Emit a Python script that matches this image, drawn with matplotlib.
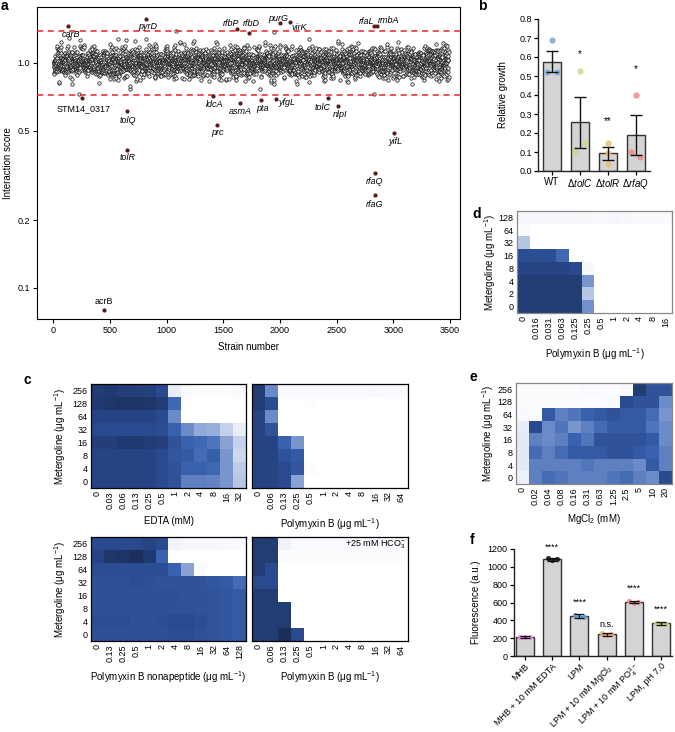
import math
import numpy as np
import matplotlib.pyplot as plt
from matplotlib.colors import LinearSegmentedColormap
from matplotlib.ticker import NullLocator

plt.rcParams['font.family'] = ['Liberation Sans', 'DejaVu Sans']
plt.rcParams['font.size'] = 6.5
plt.rcParams['mathtext.fontset'] = 'custom'
plt.rcParams['mathtext.rm'] = 'Liberation Sans'
plt.rcParams['mathtext.it'] = 'Liberation Sans:italic'
plt.rcParams['mathtext.bf'] = 'Liberation Sans:bold'
plt.rcParams['mathtext.default'] = 'regular'

# ---------------- a: genome-wide screen ----------------
N_STRAINS = 3490          # strains in the dense band
BAND_SD = 0.032           # log10 spread of the band around 1.0
HIT_NAMES = ['carB', 'pyrD', 'rfbP', 'rfbD', 'purG', 'virK', 'rfaL', 'rmbA',
             'STM14_0317', 'tolQ', 'tolR', 'ldcA', 'prc', 'asmA', 'pta', 'yfgL',
             'tolC', 'nlpI', 'yifL', 'rfaQ', 'rfaG', 'acrB']
HIT_STRAIN = [126, 815, 1625, 1731, 2002, 2090, 2831, 2861,
              255, 653, 653, 1407, 1443, 1648, 1831, 1967,
              2428, 2511, 3003, 2838, 2838, 447]
HIT_SCORE = [1.46, 1.56, 1.41, 1.35, 1.50, 1.52, 1.46, 1.45,
             0.70, 0.61, 0.41, 0.71, 0.53, 0.66, 0.68, 0.69,
             0.70, 0.64, 0.49, 0.325, 0.258, 0.080]
EXTRA_STRAIN = [1080, 1949, 229, 2834]
EXTRA_SCORE = [1.39, 1.365, 0.726, 0.725]
CUTOFF_HI, CUTOFF_LO = 1.39, 0.72

# ---------------- b: relative growth ----------------
B_STRAINS = ['WT', r'$\Delta\mathit{tolC}$', r'$\Delta\mathit{tolR}$', r'$\Delta\mathit{rfaQ}$']
B_MEAN = [0.576, 0.257, 0.093, 0.189]
B_ERR = [0.056, 0.134, 0.034, 0.104]
B_REPS = [[0.69, 0.52, 0.52], [0.525, 0.145, 0.10], [0.15, 0.093, 0.035], [0.40, 0.10, 0.075]]
B_STARS = ['', '*', '**', '*']
B_STAR_Y = [0, 0.615, 0.264, 0.537]

# ---------------- c, d, e: checkerboards ----------------
MET_ROWS = ['256', '128', '64', '32', '16', '8', '4', '0']
EDTA_X = ['0', '0.03', '0.06', '0.13', '0.25', '0.5', '1', '2', '4', '8', '16', '32']
EDTA_GROWTH = [
    [0.95, 0.96, 0.94, 0.94, 0.93, 0.90, 0.12, 0.03, 0.02, 0.02, 0.02, 0.03],
    [0.96, 0.97, 0.98, 0.98, 0.97, 0.95, 0.72, 0.00, 0.00, 0.00, 0.00, 0.00],
    [0.92, 0.92, 0.92, 0.92, 0.92, 0.90, 0.55, 0.00, 0.00, 0.00, 0.00, 0.00],
    [0.90, 0.90, 0.90, 0.90, 0.90, 0.88, 0.75, 0.55, 0.42, 0.40, 0.25, 0.12],
    [0.94, 0.94, 0.96, 0.96, 0.95, 0.93, 0.85, 0.75, 0.72, 0.65, 0.45, 0.25],
    [0.92, 0.92, 0.92, 0.92, 0.92, 0.90, 0.82, 0.80, 0.70, 0.78, 0.50, 0.22],
    [0.92, 0.92, 0.92, 0.92, 0.92, 0.90, 0.85, 0.75, 0.75, 0.72, 0.50, 0.28],
    [0.92, 0.92, 0.92, 0.92, 0.92, 0.90, 0.85, 0.60, 0.60, 0.58, 0.50, 0.30],
]
PMB_X = ['0', '0.06', '0.13', '0.25', '0.5', '1', '2', '4', '8', '16', '32', '64']
PMB_GROWTH = [
    [0.95, 0.55, 0.03, 0.03, 0.03, 0.03, 0.03, 0.03, 0.03, 0.04, 0.03, 0.03],
    [0.95, 0.88, 0.00, 0.00, 0.01, 0.00, 0.00, 0.00, 0.00, 0.00, 0.00, 0.00],
    [0.92, 0.55, 0.00, 0.00, 0.00, 0.00, 0.00, 0.00, 0.00, 0.00, 0.00, 0.00],
    [0.92, 0.85, 0.00, 0.00, 0.00, 0.00, 0.00, 0.00, 0.00, 0.00, 0.00, 0.00],
    [0.92, 0.92, 0.75, 0.50, 0.00, 0.00, 0.00, 0.00, 0.00, 0.00, 0.00, 0.00],
    [0.92, 0.92, 0.85, 0.80, 0.00, 0.00, 0.00, 0.00, 0.00, 0.00, 0.00, 0.00],
    [0.92, 0.92, 0.90, 0.82, 0.02, 0.00, 0.00, 0.00, 0.00, 0.00, 0.00, 0.00],
    [0.92, 0.92, 0.90, 0.45, 0.00, 0.00, 0.00, 0.00, 0.00, 0.00, 0.00, 0.00],
]
PMBN_X = ['0', '0.13', '0.25', '0.5', '1', '2', '4', '8', '16', '32', '64', '128']
PMBN_GROWTH = [
    [0.90, 0.90, 0.90, 0.90, 0.92, 0.90, 0.08, 0.05, 0.05, 0.05, 0.04, 0.03],
    [0.92, 0.97, 0.98, 1.00, 0.96, 0.75, 0.00, 0.00, 0.00, 0.00, 0.00, 0.00],
    [0.88, 0.88, 0.88, 0.88, 0.88, 0.88, 0.75, 0.45, 0.03, 0.00, 0.00, 0.00],
    [0.86, 0.86, 0.86, 0.88, 0.86, 0.85, 0.85, 0.85, 0.85, 0.82, 0.80, 0.70],
    [0.86, 0.86, 0.86, 0.86, 0.86, 0.86, 0.86, 0.85, 0.85, 0.84, 0.82, 0.80],
    [0.86, 0.86, 0.86, 0.86, 0.86, 0.86, 0.86, 0.86, 0.85, 0.84, 0.82, 0.80],
    [0.88, 0.88, 0.88, 0.86, 0.86, 0.88, 0.90, 0.90, 0.88, 0.84, 0.82, 0.80],
    [0.86, 0.86, 0.86, 0.86, 0.86, 0.86, 0.88, 0.88, 0.86, 0.84, 0.82, 0.80],
]
PMB_HCO3_GROWTH = [
    [0.95, 0.95, 0.08, 0.03, 0.03, 0.03, 0.03, 0.03, 0.03, 0.04, 0.03, 0.03],
    [0.95, 0.95, 0.02, 0.02, 0.02, 0.02, 0.02, 0.02, 0.02, 0.02, 0.02, 0.02],
    [0.95, 0.90, 0.00, 0.00, 0.00, 0.00, 0.00, 0.00, 0.00, 0.00, 0.00, 0.00],
    [0.90, 0.90, 0.00, 0.00, 0.00, 0.00, 0.00, 0.00, 0.00, 0.00, 0.00, 0.00],
    [0.95, 0.95, 0.00, 0.00, 0.00, 0.00, 0.00, 0.00, 0.00, 0.00, 0.00, 0.00],
    [0.95, 0.95, 0.95, 0.00, 0.00, 0.00, 0.00, 0.00, 0.00, 0.00, 0.00, 0.00],
    [0.95, 0.95, 0.95, 0.00, 0.00, 0.00, 0.00, 0.00, 0.00, 0.00, 0.00, 0.00],
    [0.95, 0.95, 1.00, 0.90, 0.00, 0.00, 0.00, 0.00, 0.00, 0.00, 0.00, 0.00],
]
D_ROWS = ['128', '64', '32', '16', '8', '4', '2', '0']
D_X = ['0', '0.016', '0.031', '0.063', '0.125', '0.25', '0.5', '1', '2', '4', '8', '16']
D_GROWTH = [
    [0.06, 0.06, 0.06, 0.06, 0.05, 0.05, 0.04, 0.06, 0.05, 0.04, 0.04, 0.03],
    [0.02, 0.00, 0.00, 0.00, 0.00, 0.00, 0.00, 0.00, 0.00, 0.00, 0.00, 0.00],
    [0.30, 0.00, 0.00, 0.00, 0.00, 0.00, 0.00, 0.00, 0.00, 0.00, 0.00, 0.00],
    [0.88, 0.88, 0.88, 0.72, 0.00, 0.00, 0.00, 0.00, 0.00, 0.00, 0.00, 0.00],
    [0.92, 0.92, 0.92, 0.92, 0.90, 0.05, 0.00, 0.00, 0.00, 0.00, 0.00, 0.00],
    [0.95, 0.95, 0.95, 0.95, 0.95, 0.50, 0.00, 0.00, 0.00, 0.00, 0.00, 0.00],
    [0.95, 0.95, 0.95, 0.95, 0.95, 0.30, 0.00, 0.00, 0.00, 0.00, 0.00, 0.00],
    [0.95, 0.95, 0.95, 0.95, 0.95, 0.52, 0.00, 0.00, 0.00, 0.00, 0.00, 0.00],
]
E_X = ['0', '0.02', '0.04', '0.08', '0.16', '0.31', '0.63', '1.25', '2.5', '5', '10', '20']
E_GROWTH = [
    [0.02, 0.02, 0.02, 0.02, 0.02, 0.03, 0.03, 0.02, 0.04, 0.95, 0.85, 0.85],
    [0.02, 0.02, 0.02, 0.02, 0.02, 0.02, 0.02, 0.03, 0.90, 0.85, 0.85, 0.55],
    [0.03, 0.02, 0.80, 0.60, 0.65, 0.75, 0.80, 0.85, 0.80, 0.80, 0.70, 0.50],
    [0.12, 0.90, 0.55, 0.65, 0.50, 0.60, 0.70, 0.80, 0.80, 0.80, 0.65, 0.55],
    [0.15, 0.60, 0.55, 0.60, 0.75, 0.65, 0.85, 0.85, 0.85, 0.85, 0.80, 0.55],
    [0.15, 0.70, 0.60, 0.70, 0.80, 0.80, 0.80, 0.85, 0.85, 0.80, 0.75, 0.60],
    [0.15, 0.60, 0.60, 0.60, 0.60, 0.65, 0.60, 0.60, 0.60, 0.55, 0.80, 0.60],
    [0.10, 0.60, 0.70, 0.65, 0.60, 0.60, 0.60, 0.65, 0.70, 0.60, 0.55, 0.90],
]

# ---------------- f: fluorescence ----------------
F_COND = ['MHB', 'MHB + 10 mM EDTA', 'LPM', r'LPM + 10 mM MgCl$_2$',
          r'LPM + 10 mM PO$_4^{3-}$', 'LPM, pH 7.0']
F_MEAN = [215, 1085, 448, 245, 605, 365]
F_ERR = [8, 15, 20, 18, 8, 15]
F_REPS = [[212, 218, 215], [1100, 1075, 1090], [462, 440, 442],
          [255, 232, 248], [612, 600, 608], [372, 360, 363]]
F_STARS = ['', '****', '****', 'n.s.', '****', '****']
F_STAR_Y = [0, 1221, 601, 350, 758, 521]

# ---------------- styling ----------------
W, H = 675, 732
fig = plt.figure(figsize=(W / 100, H / 100), dpi=100)
CMAP = LinearSegmentedColormap.from_list('growth', [
    (0.0, '#ffffff'), (0.15, '#e3e9f5'), (0.35, '#a9bbe0'), (0.55, '#6a8ac8'),
    (0.75, '#3a62ae'), (0.9, '#2a4b8f'), (1.0, '#1b2f5c')])
B_COLORS = ['#7ba7e0', '#c3de8a', '#e8be78', '#ee8888']
F_COLORS = ['#e38be3', '#111111', '#6fa1dc', '#e9b66a', '#ee8a8a', '#c4dc84']
LABEL_OFFSET = {'carB': (3, -9), 'pyrD': (2, -7), 'rfbP': (-6, 6), 'rfbD': (2, 10),
                'purG': (-2, 5), 'virK': (9, -6), 'rfaL': (-7, 4), 'rmbA': (11, 6),
                'STM14_0317': (1, -11), 'tolQ': (0, -9), 'tolR': (0, -8), 'ldcA': (2, -8),
                'prc': (1, -8), 'asmA': (0, -8), 'pta': (2, -8), 'yfgL': (11, -3),
                'tolC': (-6, -10), 'nlpI': (2, -8), 'yifL': (2, -9), 'rfaQ': (0, -9),
                'rfaG': (0, -9), 'acrB': (0, 8)}


def rect(x0, y0, x1, y1):
    return [x0 / W, 1 - y1 / H, (x1 - x0) / W, (y1 - y0) / H]


def letter(x, y, s):
    fig.text(x / W, 1 - y / H, s, fontsize=10, fontweight='bold', ha='left', va='center')


def prism(ax):
    for s in ['top', 'right']:
        ax.spines[s].set_visible(False)
    for s in ['left', 'bottom']:
        ax.spines[s].set_linewidth(1.0)
        ax.spines[s].set_color('#222222')
    ax.tick_params(direction='out', length=3, width=0.9, pad=1.5, labelsize=6.5)


def heat(box, grid, xlabels, ylabels, xlabel, show_y=True, edge='black', ypad=3):
    ax = fig.add_axes(rect(*box))
    ax.imshow(np.array(grid), cmap=CMAP, vmin=0, vmax=1, aspect='auto',
              interpolation='nearest')
    ax.set_xticks(range(len(xlabels)))
    ax.set_xticklabels(xlabels, rotation=90)
    ax.set_yticks(range(len(ylabels)))
    ax.set_yticklabels(ylabels if show_y else [])
    ax.tick_params(length=0, pad=2.5, labelsize=6.5)
    for s in ax.spines.values():
        s.set_color(edge)
        s.set_linewidth(0.9)
    ax.set_xlabel(xlabel, fontsize=7, labelpad=5)
    if show_y:
        ax.set_ylabel(r'Metergoline ($\mu$g mL$^{-1}$)', fontsize=7, labelpad=ypad)
    return ax


# ---- panel a
ax = fig.add_axes(rect(37, 7, 460, 319))
k = np.arange(N_STRAINS)
# equidistributed quantile positions (Weyl sequence) mapped onto the band spread
q = (k * k * math.sqrt(2) / 2 + k * 0.6180339887 + 0.3) % 1
zg = np.linspace(-3.7, 3.7, 1481)
cdf = 0.5 * (1 + np.array([math.erf(v / math.sqrt(2)) for v in zg]))
cloud = 10 ** (BAND_SD * np.interp(q, cdf, zg))
ax.scatter(k + 1, cloud, s=6, facecolors='#eeeeee', edgecolors='#111111',
           linewidths=0.5, zorder=2)
ax.scatter(EXTRA_STRAIN, EXTRA_SCORE, s=6, facecolors='#eeeeee', edgecolors='#111111',
           linewidths=0.5, zorder=2)
ax.axhline(CUTOFF_HI, color='#e8202a', lw=1.1, dashes=(4, 3), zorder=3)
ax.axhline(CUTOFF_LO, color='#e8202a', lw=1.1, dashes=(4, 3), zorder=3)
ax.scatter(HIT_STRAIN, HIT_SCORE, s=4, color='#5b1a1a', zorder=4)
for name, sx, sy in zip(HIT_NAMES, HIT_STRAIN, HIT_SCORE):
    ax.annotate(name, (sx, sy), xytext=LABEL_OFFSET[name], textcoords='offset pixels',
                ha='center', va='center', fontsize=6.5,
                style='normal' if name in ('STM14_0317', 'acrB') else 'italic')
ax.set_yscale('log')
ax.set_ylim(0.0727, 1.77)
ax.set_xlim(-145, 3590)
ax.set_yticks([0.1, 0.2, 0.5, 1.0])
ax.set_yticklabels(['0.1', '0.2', '0.5', '1.0'])
ax.yaxis.set_minor_locator(NullLocator())
ax.set_xticks(range(0, 3501, 500))
ax.tick_params(direction='out', length=3, width=0.8, pad=2, labelsize=6.5)
for s in ax.spines.values():
    s.set_linewidth(0.8)
ax.set_xlabel('Strain number', fontsize=7, labelpad=5)
ax.set_ylabel('Interaction score', fontsize=7, labelpad=3)
letter(1, 6, 'a')

# ---- panel b
ax = fig.add_axes(rect(538, 19, 650, 171))
xb = np.arange(len(B_MEAN))
ax.bar(xb, B_MEAN, width=0.64, color='#d4d4d4', edgecolor='#333333', linewidth=1.0, zorder=1)
ax.errorbar(xb, B_MEAN, yerr=B_ERR, fmt='none', ecolor='#111111', elinewidth=1.0,
            capsize=4.5, capthick=1.0, zorder=3)
B_JITTER = [[0, -0.17, 0.17], [0, 0.18, -0.18], [0, 0, 0], [0, -0.19, 0.15]]
for i, reps in enumerate(B_REPS):
    ax.scatter(i + np.array(B_JITTER[i]), reps, s=20, color=B_COLORS[i], alpha=0.85,
               linewidths=0, zorder=2)
    if B_STARS[i]:
        ax.text(i, B_STAR_Y[i], B_STARS[i], ha='center', va='center', fontsize=7)
ax.set_xlim(-0.5, 3.5)
ax.set_ylim(0, 0.8)
ax.set_yticks(np.arange(0, 0.81, 0.1))
ax.set_yticklabels([f'{v:.1f}' for v in np.arange(0, 0.81, 0.1)])
ax.set_xticks(xb)
ax.set_xticklabels(B_STRAINS, fontsize=7)
prism(ax)
ax.tick_params(axis='x', labelsize=7)
ax.set_ylabel('Relative growth', fontsize=7, labelpad=8)
letter(478, 6, 'b')

# ---- panel c
heat((91, 384, 246, 488), EDTA_GROWTH, EDTA_X, MET_ROWS, 'EDTA (mM)')
heat((252, 384, 408, 488), PMB_GROWTH, PMB_X, MET_ROWS,
     r'Polymyxin B ($\mu$g mL$^{-1}$)', show_y=False)
heat((91, 537, 246, 641), PMBN_GROWTH, PMBN_X, MET_ROWS,
     r'Polymyxin B nonapeptide ($\mu$g mL$^{-1}$)')
axc4 = heat((252, 537, 408, 641), PMB_HCO3_GROWTH, PMB_X, MET_ROWS,
            r'Polymyxin B ($\mu$g mL$^{-1}$)', show_y=False)
axc4.text(0.985, 0.93, r'+25 mM HCO$_3^{-}$', transform=axc4.transAxes,
          ha='right', va='center', fontsize=6.5)
letter(24, 380, 'c')

# ---- panel d
heat((517, 211, 672, 313), D_GROWTH, D_X, D_ROWS,
     r'Polymyxin B ($\mu$g mL$^{-1}$)', edge='#888888', ypad=0.5)
letter(472, 214, 'd')

# ---- panel e
heat((516, 383, 672, 484), E_GROWTH, E_X, MET_ROWS, r'MgCl$_2$ (mM)', edge='#888888',
     ypad=1)
letter(470, 377, 'e')

# ---- panel f
ax = fig.add_axes(rect(514, 549, 672, 656))
xf = np.arange(len(F_MEAN))
ax.bar(xf, F_MEAN, width=0.66, color='#d4d4d4', edgecolor='#333333', linewidth=1.0, zorder=1)
F_JITTER = [-0.17, 0.0, 0.17]
for i, reps in enumerate(F_REPS):
    ax.scatter(i + np.array(F_JITTER), reps, s=14, color=F_COLORS[i], alpha=0.85,
               linewidths=0, zorder=2)
    if F_STARS[i]:
        ax.text(i, F_STAR_Y[i], F_STARS[i], ha='center', va='center', fontsize=6.5)
ax.errorbar(xf, F_MEAN, yerr=F_ERR, fmt='none', ecolor='#111111', elinewidth=0.9,
            capsize=3.5, capthick=0.9, zorder=3)
ax.set_xlim(-0.4, 5.4)
ax.set_ylim(0, 1200)
ax.set_yticks(range(0, 1201, 200))
ax.set_xticks(xf)
ax.set_xticklabels(F_COND, rotation=45, ha='right', rotation_mode='anchor', fontsize=6.0)
prism(ax)
ax.tick_params(axis='x', pad=1)
ax.set_ylabel('Fluorescence (a.u.)', fontsize=7, labelpad=5)
letter(470, 540, 'f')

fig.savefig('out.png', dpi=100)
